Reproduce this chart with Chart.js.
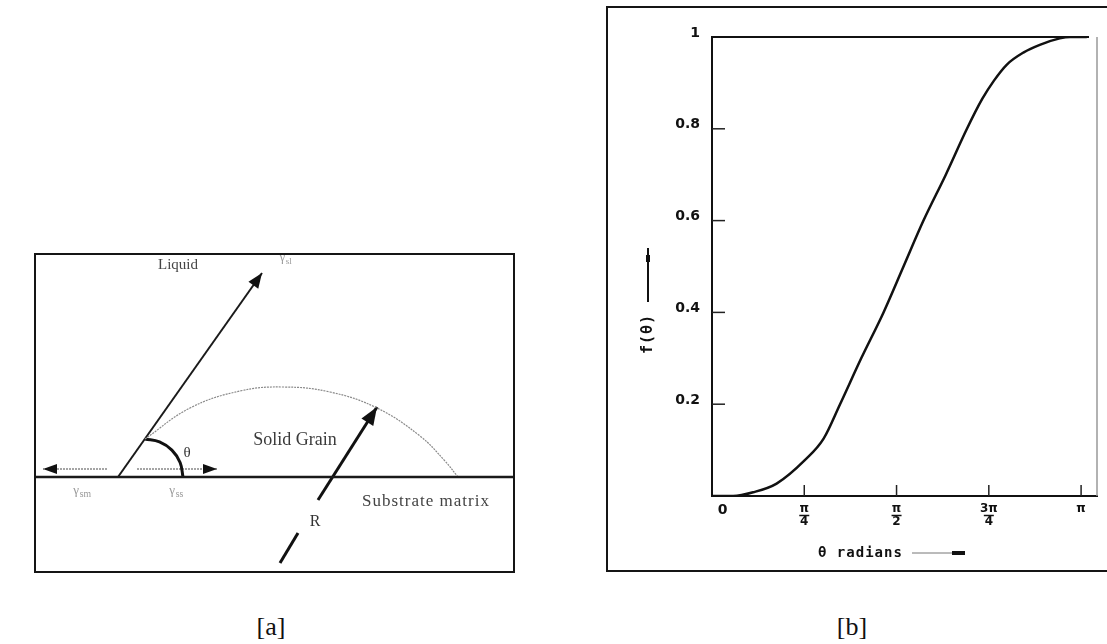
<!DOCTYPE html>
<html>
<head>
    <title>Wetting of a solid grain and f(θ)</title>
    <script src="https://cdn.jsdelivr.net/npm/chart.js@4.4.1/dist/chart.umd.min.js"></script>
    <style>
        html, body {
            margin: 0;
            padding: 0;
            background: #fff;
            width: 1107px;
            height: 644px;
            overflow: hidden;
            position: relative;
        }
        #panelA {
            position: absolute;
            left: 34px;
            top: 253px;
            width: 477px;
            height: 316px;
            border: 2px solid #151515;
        }
        #panelB {
            position: absolute;
            left: 606px;
            top: 6px;
            width: 505px;
            height: 562px;
            border: 2px solid #151515;
        }
        canvas { display: block; }
        .caption {
            position: absolute;
            top: 612px;
            width: 60px;
            text-align: center;
            font-family: "Liberation Serif", serif;
            font-size: 26px;
            color: #111;
        }
    </style>
</head>
<body>
    <div id="panelA"><canvas id="diagram" width="477" height="316"></canvas></div>
    <div id="panelB"><canvas id="fTheta" width="495" height="562"></canvas></div>
    <div class="caption" style="left:241px">[a]</div>
    <div class="caption" style="left:822px">[b]</div>

    <script>
        // ---- [b] f(theta) curve ----
        const thetaValues = [0, 0.18, 0.35, 0.55, 0.79, 0.95, 1.09, 1.27, 1.46, 1.63, 1.80, 1.99, 2.17, 2.30, 2.40, 2.51, 2.65, 2.79, 2.96, 3.05, 3.19];
        const fValues = [0, 0, 0.008, 0.027, 0.078, 0.125, 0.2, 0.3, 0.4, 0.5, 0.6, 0.7, 0.8, 0.865, 0.905, 0.94, 0.966, 0.983, 0.997, 1.0, 1.0];
        const thetaTicks = [0, Math.PI / 4, Math.PI / 2, 3 * Math.PI / 4, Math.PI];
        const thetaTickLabels = ['\u2003\u20020', ['π', '4'], ['π', '2'], ['3π', '4'], 'π'];
        const fTicks = [0.2, 0.4, 0.6, 0.8, 1];

        // ---- [a] contact angle sketch (x to the right, y downwards) ----
        const substrateLine = [{x: 0, y: 222}, {x: 477, y: 222}];
        const liquidVector = [{x: 82, y: 222}, {x: 226, y: 18}];
        const grainOutline = [{x: 109, y: 184}, {x: 154, y: 153}, {x: 204, y: 136}, {x: 247, y: 132},
                              {x: 294, y: 137}, {x: 341, y: 153}, {x: 384, y: 181}, {x: 409, y: 206}, {x: 422, y: 222}];
        const thetaArc = [{x: 109, y: 184}, {x: 123.5, y: 186.9}, {x: 135.9, y: 195.1}, {x: 144.1, y: 207.5}, {x: 147, y: 222}];
        const gammaSmVector = [{x: 71, y: 214}, {x: 7, y: 214}];
        const gammaSsVector = [{x: 101, y: 214}, {x: 181, y: 214}];
        const radiusTail = [{x: 244, y: 308}, {x: 262, y: 278}];
        const radiusHead = [{x: 282, y: 245}, {x: 341, y: 152}];

        const serif = '"Liberation Serif", "DejaVu Serif", serif';
        const sketchLabels = [
            {text: 'Liquid', x: 142, y: 10, size: 15, color: '#444'},
            {text: 'γ', sub: 'sl', x: 251, y: 3, size: 12, color: '#999'},
            {text: 'Solid Grain', x: 259, y: 185, size: 18, color: '#3a3a3a'},
            {text: 'θ', x: 151, y: 198, size: 15, color: '#333'},
            {text: 'γ', sub: 'sm', x: 45, y: 236, size: 13, color: '#999'},
            {text: 'γ', sub: 'ss', x: 141, y: 236, size: 13, color: '#999'},
            {text: 'Substrate matrix', x: 390, y: 247, size: 17, color: '#444', spacing: '1px'},
            {text: 'R', x: 279, y: 267, size: 16, color: '#333'}
        ];

        function drawLine(ctx, x1, y1, x2, y2) {
            ctx.beginPath();
            ctx.moveTo(x1, y1);
            ctx.lineTo(x2, y2);
            ctx.stroke();
        }

        function drawArrowHead(ctx, from, to, len, half) {
            const a = Math.atan2(to.y - from.y, to.x - from.x);
            ctx.beginPath();
            ctx.moveTo(to.x, to.y);
            ctx.lineTo(to.x - len * Math.cos(a) + half * Math.sin(a), to.y - len * Math.sin(a) - half * Math.cos(a));
            ctx.lineTo(to.x - len * Math.cos(a) - half * Math.sin(a), to.y - len * Math.sin(a) + half * Math.cos(a));
            ctx.closePath();
            ctx.fill();
        }

        // arrow heads and labels of the sketch
        const sketchDecor = {
            id: 'sketchDecor',
            afterDatasetsDraw(chart) {
                const ctx = chart.ctx;
                const {x, y} = chart.scales;
                ctx.save();
                ctx.fillStyle = '#111';
                chart.data.datasets.forEach((ds, i) => {
                    if (!ds.arrow) return;
                    const pts = chart.getDatasetMeta(i).data;
                    const n = pts.length;
                    drawArrowHead(ctx, pts[n - 2], pts[n - 1], ds.arrow[0], ds.arrow[1]);
                });
                ctx.textAlign = 'center';
                ctx.textBaseline = 'middle';
                sketchLabels.forEach(l => {
                    const px = x.getPixelForValue(l.x);
                    const py = y.getPixelForValue(l.y);
                    ctx.fillStyle = l.color;
                    ctx.font = l.size + 'px ' + serif;
                    ctx.letterSpacing = l.spacing || '0px';
                    if (l.sub) {
                        ctx.textAlign = 'left';
                        ctx.fillText(l.text, px - l.size * 0.6, py);
                        ctx.font = (l.size * 0.75) + 'px ' + serif;
                        ctx.fillText(l.sub, px - l.size * 0.6 + l.size * 0.5, py + l.size * 0.3);
                        ctx.textAlign = 'center';
                    } else {
                        ctx.fillText(l.text, px, py);
                    }
                });
                ctx.restore();
            }
        };

        function lineSet(data, color, width, extra) {
            return Object.assign({
                data: data,
                showLine: true,
                borderColor: color,
                borderWidth: width,
                pointRadius: 0,
                fill: false
            }, extra || {});
        }

        new Chart(document.getElementById('diagram'), {
            type: 'scatter',
            data: {
                datasets: [
                    lineSet(substrateLine, '#1a1a1a', 2.5),
                    lineSet(grainOutline, '#8a8a8a', 1.2, {tension: 0.4, borderDash: [2, 1]}),
                    lineSet(liquidVector, '#1a1a1a', 2, {arrow: [15, 6]}),
                    lineSet(thetaArc, '#111', 3, {tension: 0.4}),
                    lineSet(gammaSmVector, '#888', 1.5, {borderDash: [2, 1], arrow: [14, 5]}),
                    lineSet(gammaSsVector, '#888', 1.5, {borderDash: [2, 1], arrow: [14, 5]}),
                    lineSet(radiusTail, '#111', 3),
                    lineSet(radiusHead, '#111', 3, {arrow: [18, 7]})
                ]
            },
            options: {
                responsive: false,
                animation: false,
                layout: {padding: 0},
                plugins: {legend: {display: false}, tooltip: {enabled: false}},
                scales: {
                    x: {display: false, min: 0, max: 477},
                    y: {display: false, min: 0, max: 316, reverse: true}
                }
            },
            plugins: [sketchDecor]
        });

        // frame, inward ticks, fraction bars and axis titles of the f(θ) plot
        const plotDecor = {
            id: 'plotDecor',
            afterDraw(chart) {
                const ctx = chart.ctx;
                const a = chart.chartArea;
                const {x, y} = chart.scales;
                ctx.save();
                ctx.lineCap = 'butt';
                ctx.strokeStyle = '#111';
                ctx.lineWidth = 2;
                drawLine(ctx, a.left, a.top, a.right - 8, a.top);
                ctx.strokeStyle = '#999';
                ctx.lineWidth = 1.5;
                drawLine(ctx, a.right, a.top, a.right, a.bottom);

                ctx.strokeStyle = '#222';
                ctx.lineWidth = 1.5;
                fTicks.forEach(v => {
                    if (v >= 1) return;
                    const py = y.getPixelForValue(v);
                    drawLine(ctx, a.left, py, a.left + 13, py);
                });
                thetaTicks.forEach(v => {
                    if (v === 0) return;
                    const px = x.getPixelForValue(v);
                    drawLine(ctx, px, a.bottom, px, a.bottom - 11);
                });

                // bars of the stacked fractions
                ctx.strokeStyle = '#111';
                ctx.lineWidth = 1.5;
                thetaTicks.forEach((v, i) => {
                    if (!Array.isArray(thetaTickLabels[i])) return;
                    const px = x.getPixelForValue(v);
                    drawLine(ctx, px - 5, a.bottom + 19.5, px + 5, a.bottom + 19.5);
                });

                ctx.fillStyle = '#111';
                ctx.font = 'bold 14px "DejaVu Sans Mono", monospace';
                ctx.letterSpacing = '1px';
                ctx.textBaseline = 'middle';
                ctx.textAlign = 'left';
                const tx = a.left + 106;
                const ty = a.bottom + 57;
                ctx.fillText('θ radians', tx, ty);
                ctx.strokeStyle = '#777';
                ctx.lineWidth = 1;
                drawLine(ctx, tx + 94, ty, tx + 136, ty);
                ctx.strokeStyle = '#111';
                ctx.lineWidth = 4;
                drawLine(ctx, tx + 134, ty, tx + 147, ty);

                ctx.save();
                ctx.font = 'bold 15px "DejaVu Sans Mono", monospace';
                ctx.translate(a.left - 64, a.top + 295);
                ctx.rotate(-Math.PI / 2);
                ctx.fillText('f(θ)', -22, 0);
                ctx.restore();
                ctx.strokeStyle = '#111';
                ctx.lineWidth = 2;
                drawLine(ctx, a.left - 64, a.top + 265, a.left - 64, a.top + 211);
                ctx.lineWidth = 4;
                drawLine(ctx, a.left - 64, a.top + 225, a.left - 64, a.top + 218);
                ctx.restore();
            }
        };

        new Chart(document.getElementById('fTheta'), {
            type: 'line',
            data: {
                datasets: [{
                    data: thetaValues.map((t, i) => ({x: t, y: fValues[i]})),
                    borderColor: '#111',
                    borderWidth: 2.5,
                    pointRadius: 0,
                    cubicInterpolationMode: 'monotone',
                    fill: false
                }]
            },
            options: {
                responsive: false,
                animation: false,
                layout: {padding: {top: 29, right: 6, left: 0, bottom: 0}},
                plugins: {legend: {display: false}, tooltip: {enabled: false}},
                scales: {
                    x: {
                        type: 'linear',
                        min: 0,
                        max: 3.277,
                        afterFit: s => { s.height = 74; },
                        afterBuildTicks: s => { s.ticks = thetaTicks.map(v => ({value: v})); },
                        grid: {display: false, drawTicks: false},
                        border: {display: true, color: '#111', width: 2},
                        ticks: {
                            padding: 7,
                            maxRotation: 0,
                            autoSkip: false,
                            color: '#111',
                            font: ctx => ({
                                family: '"DejaVu Sans"',
                                weight: 'bold',
                                size: ctx.index === 0 ? 14 : 12,
                                lineHeight: 1.05
                            }),
                            callback: (v, i) => thetaTickLabels[i]
                        }
                    },
                    y: {
                        min: 0,
                        max: 1,
                        afterFit: s => { s.width = 104; },
                        afterBuildTicks: s => { s.ticks = fTicks.map(v => ({value: v})); },
                        grid: {display: false, drawTicks: false},
                        border: {display: true, color: '#111', width: 2},
                        ticks: {
                            padding: 12,
                            labelOffset: -4,
                            color: '#111',
                            font: {family: '"DejaVu Sans"', size: 14, weight: 'bold'},
                            callback: v => String(Math.round(v * 10) / 10)
                        }
                    }
                }
            },
            plugins: [plotDecor]
        });
    </script>
</body>
</html>
